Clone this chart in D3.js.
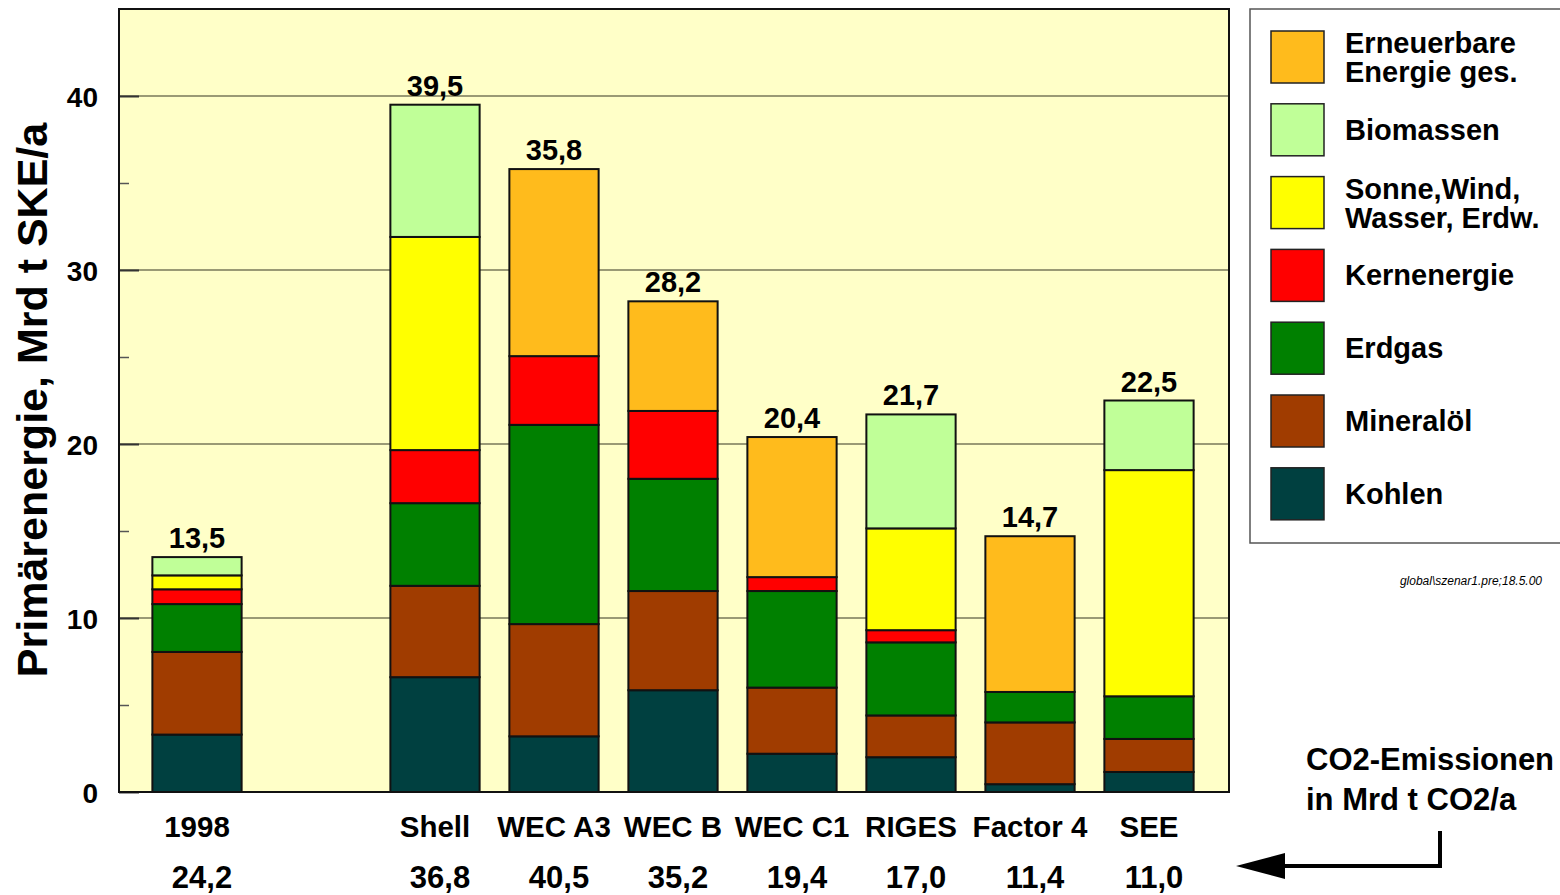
<!DOCTYPE html>
<html>
<head>
<meta charset="utf-8">
<script src="https://cdn.jsdelivr.net/npm/d3@7"></script>
<style>
  body { margin: 0; background: #fff; }
  text { font-family: "Liberation Sans", Arial, sans-serif; font-weight: bold; fill: #000; }
</style>
</head>
<body>
<div class="chart"></div>
<script>
// scenarios (one empty slot between 1998 and the scenarios)
var categories = ["1998", "", "Shell", "WEC A3", "WEC B", "WEC C1", "RIGES", "Factor 4", "SEE"];
var totals = ["13,5", "", "39,5", "35,8", "28,2", "20,4", "21,7", "14,7", "22,5"];
var co2 = ["24,2", "", "36,8", "40,5", "35,2", "19,4", "17,0", "11,4", "11,0"];

// Mrd t SKE/a per energy source
var kohlen      = [3.3, 0, 6.6, 3.2, 5.85, 2.2, 2.0, 0.45, 1.15];
var mineraloel  = [4.75, 0, 5.25, 6.45, 5.7, 3.8, 2.4, 3.55, 1.9];
var erdgas      = [2.75, 0, 4.75, 11.45, 6.45, 5.55, 4.2, 1.75, 2.45];
var kern        = [0.85, 0, 3.05, 3.95, 3.9, 0.8, 0.7, 0, 0];
var sonne       = [0.8, 0, 12.25, 0, 0, 0, 5.85, 0, 13.0];
var biomassen   = [1.05, 0, 7.6, 0, 0, 0, 6.55, 0, 4.0];
var erneuerbare = [0, 0, 0, 10.75, 6.3, 8.05, 0, 8.95, 0];

var yTicks = [0, 10, 20, 30, 40];
var yMinor = [5, 15, 25, 35];

var keys = ["kohlen", "mineraloel", "erdgas", "kern", "sonne", "biomassen", "erneuerbare"];
var colors = {
  kohlen: "#004040",
  mineraloel: "#a03c00",
  erdgas: "#008000",
  kern: "#ff0000",
  sonne: "#ffff00",
  biomassen: "#c0ff98",
  erneuerbare: "#ffbb1c"
};
// legend, top to bottom
var legendItems = [
  { key: "erneuerbare", label: ["Erneuerbare", "Energie ges."] },
  { key: "biomassen", label: ["Biomassen"] },
  { key: "sonne", label: ["Sonne,Wind,", "Wasser, Erdw."] },
  { key: "kern", label: ["Kernenergie"] },
  { key: "erdgas", label: ["Erdgas"] },
  { key: "mineraloel", label: ["Mineralöl"] },
  { key: "kohlen", label: ["Kohlen"] }
];

var series = { kohlen: kohlen, mineraloel: mineraloel, erdgas: erdgas, kern: kern,
  sonne: sonne, biomassen: biomassen, erneuerbare: erneuerbare };

var table = categories.map(function(c, i) {
  var row = { cat: c || "gap", idx: i };
  keys.forEach(function(k) { row[k] = series[k][i]; });
  return row;
});

var width = 1560, height = 895;
var plot = { left: 119, top: 9, right: 1229, bottom: 792 };

var svg = d3.select(".chart").append("svg")
  .attr("width", width)
  .attr("height", height);

var x = d3.scaleBand()
  .domain(table.map(function(d) { return d.cat; }))
  .range([137.5, 1208.5])
  .paddingInner(0.25)
  .paddingOuter(0.125);

var y = d3.scaleLinear()
  .domain([0, 45])
  .range([plot.bottom, plot.top]);

// plot background
svg.append("rect")
  .attr("x", plot.left)
  .attr("y", plot.top)
  .attr("width", plot.right - plot.left)
  .attr("height", plot.bottom - plot.top)
  .attr("fill", "#ffffc8");

// gridlines
svg.append("g")
  .selectAll("line")
  .data(yTicks.filter(function(t) { return t > 0; }))
  .enter()
  .append("line")
  .attr("x1", plot.left)
  .attr("x2", plot.right)
  .attr("y1", function(d) { return y(d); })
  .attr("y2", function(d) { return y(d); })
  .attr("stroke", "#78785a")
  .attr("stroke-width", 1.5);

// major tick stubs (darker) and minor ticks
svg.append("g")
  .attr("transform", "translate(" + plot.left + ",0)")
  .call(d3.axisRight(y).tickValues(yTicks).tickSize(20).tickFormat(""))
  .call(function(g) {
    g.select(".domain").remove();
    g.selectAll("line").attr("stroke", "#333").attr("stroke-width", 2);
  });

svg.append("g")
  .attr("transform", "translate(" + plot.left + ",0)")
  .call(d3.axisRight(y).tickValues(yMinor).tickSize(10).tickFormat(""))
  .call(function(g) {
    g.select(".domain").remove();
    g.selectAll("line").attr("stroke", "#555").attr("stroke-width", 1.5);
  });

// y tick labels
svg.append("g")
  .attr("transform", "translate(" + plot.left + ",0)")
  .call(d3.axisLeft(y).tickValues(yTicks).tickSize(0).tickPadding(21))
  .call(function(g) {
    g.select(".domain").remove();
    g.selectAll("text")
      .style("font-family", "'Liberation Sans', Arial, sans-serif")
      .style("font-weight", "bold")
      .style("font-size", "28px")
      .attr("fill", "#000")
      .attr("dy", "0.36em");
  });

// stacked bars
var stack = d3.stack().keys(keys);
var layers = stack(table);

svg.append("g")
  .selectAll("g")
  .data(layers)
  .enter()
  .append("g")
  .attr("fill", function(d) { return colors[d.key]; })
  .selectAll("rect")
  .data(function(d) { return d.filter(function(p) { return p[1] - p[0] > 0; }); })
  .enter()
  .append("rect")
  .attr("x", function(d) { return x(d.data.cat); })
  .attr("width", x.bandwidth())
  .attr("y", function(d) { return y(d[1]); })
  .attr("height", function(d) { return y(d[0]) - y(d[1]); })
  .attr("stroke", "#111")
  .attr("stroke-width", 2);

// plot frame
svg.append("rect")
  .attr("x", plot.left)
  .attr("y", plot.top)
  .attr("width", plot.right - plot.left)
  .attr("height", plot.bottom - plot.top)
  .attr("fill", "none")
  .attr("stroke", "#111")
  .attr("stroke-width", 2);

// totals above bars
svg.append("g")
  .selectAll("text")
  .data(table.filter(function(d) { return totals[d.idx] !== ""; }))
  .enter()
  .append("text")
  .attr("x", function(d) { return x(d.cat) + x.bandwidth() / 2; })
  .attr("y", function(d) {
    var top = d3.sum(keys, function(k) { return d[k]; });
    return y(top) - 9;
  })
  .attr("text-anchor", "middle")
  .style("font-size", "29px")
  .text(function(d) { return totals[d.idx]; });

// category labels
svg.append("g")
  .selectAll("text")
  .data(table.filter(function(d) { return categories[d.idx] !== ""; }))
  .enter()
  .append("text")
  .attr("x", function(d) { return x(d.cat) + x.bandwidth() / 2; })
  .attr("y", 837)
  .attr("text-anchor", "middle")
  .style("font-size", "29.5px")
  .text(function(d) { return categories[d.idx]; });

// CO2 emissions row
svg.append("g")
  .selectAll("text")
  .data(table.filter(function(d) { return co2[d.idx] !== ""; }))
  .enter()
  .append("text")
  .attr("x", function(d) { return x(d.cat) + x.bandwidth() / 2 + 5; })
  .attr("y", 888)
  .attr("text-anchor", "middle")
  .style("font-size", "31px")
  .text(function(d) { return co2[d.idx]; });

// y axis title
svg.append("text")
  .attr("transform", "translate(47,400) rotate(-90)")
  .attr("text-anchor", "middle")
  .style("font-size", "43px")
  .text("Primärenergie, Mrd t SKE/a");

// legend
var legend = svg.append("g");
legend.append("rect")
  .attr("x", 1250)
  .attr("y", 9)
  .attr("width", 320)
  .attr("height", 534)
  .attr("fill", "#fff")
  .attr("stroke", "#555")
  .attr("stroke-width", 1.5);

var item = legend.selectAll(".item")
  .data(legendItems)
  .enter()
  .append("g")
  .attr("class", "item")
  .attr("transform", function(d, i) { return "translate(1271," + (31 + i * 72.8) + ")"; });

item.append("rect")
  .attr("width", 53)
  .attr("height", 52)
  .attr("fill", function(d) { return colors[d.key]; })
  .attr("stroke", "#222")
  .attr("stroke-width", 1.5);

item.each(function(d) {
  var g = d3.select(this);
  var first = d.label.length === 1 ? 36 : 22;
  d.label.forEach(function(line, j) {
    g.append("text")
      .attr("x", 74)
      .attr("y", first + j * 29)
      .style("font-size", "29px")
      .text(line);
  });
});

// source note
svg.append("text")
  .attr("x", 1542)
  .attr("y", 585)
  .attr("text-anchor", "end")
  .style("font-size", "12px")
  .style("font-weight", "normal")
  .style("font-style", "italic")
  .text("global\\szenar1.pre;18.5.00");

// CO2 note with arrow
svg.append("text")
  .attr("x", 1306)
  .attr("y", 770)
  .style("font-size", "31px")
  .text("CO2-Emissionen");
svg.append("text")
  .attr("x", 1306)
  .attr("y", 810)
  .style("font-size", "31px")
  .text("in Mrd t CO2/a");

svg.append("path")
  .attr("d", "M1440,831 L1440,866 L1282,866")
  .attr("fill", "none")
  .attr("stroke", "#000")
  .attr("stroke-width", 4);
svg.append("path")
  .attr("d", "M1236,866 L1285,853 L1285,879 Z")
  .attr("fill", "#000");
</script>
</body>
</html>
